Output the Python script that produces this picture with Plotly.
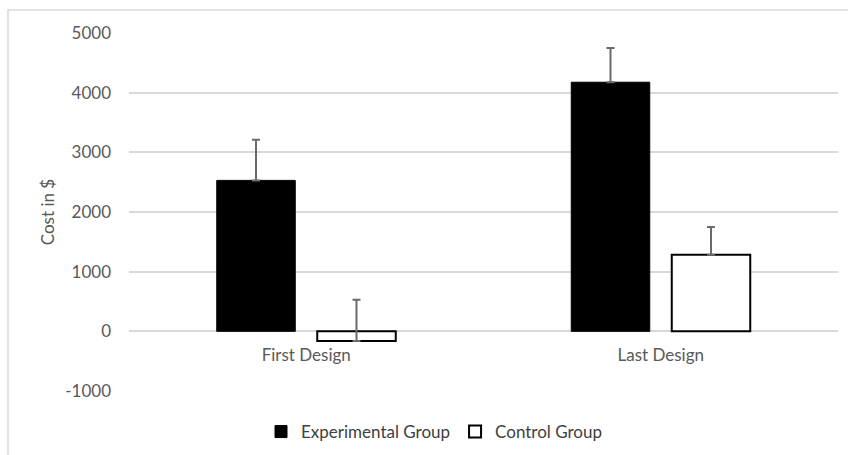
import plotly.graph_objects as go

categories = ["First Design", "Last Design"]
experimental = [2530, 4175]
experimental_err = [680, 575]
control = [-160, 1285]
control_err = [690, 465]
y_ticks = [-1000, 0, 1000, 2000, 3000, 4000, 5000]

W, H = 848, 455
L, R, T, B = 129, 10, 33, 64
pw, ph = W - L - R, H - T - B

def px_x(x):
    return (x - L) / pw

def px_y(y):
    return (H - B - y) / ph

font_fam = "Lato, 'Open Sans', sans-serif"
txt = "#595959"
fs = 17

fig = go.Figure()
fig.add_trace(go.Bar(
    name="Experimental Group", x=categories, y=experimental,
    marker=dict(color="black", line=dict(color="black", width=1)),
    error_y=dict(type="data", array=experimental_err, arrayminus=[0, 0], symmetric=False,
                 color="#6a6a6a", thickness=2, width=4),
))
fig.add_trace(go.Bar(
    name="Control Group", x=categories, y=control,
    marker=dict(color="white", line=dict(color="black", width=2)),
    error_y=dict(type="data", array=control_err, arrayminus=[0, 0], symmetric=False,
                 color="#6a6a6a", thickness=2, width=4),
))

fig.update_layout(
    width=W, height=H,
    margin=dict(l=L, r=R, t=T, b=B, autoexpand=False),
    paper_bgcolor="white", plot_bgcolor="white",
    barmode="group", bargap=0.433, bargroupgap=0.219,
    font=dict(family=font_fam, size=fs, color=txt),
    showlegend=True,
    legend=dict(orientation="h", xref="container", yref="container",
                x=434 / W, xanchor="center", y=(H - 432) / H, yanchor="middle",
                font=dict(size=fs, color="#404040"), bgcolor="rgba(0,0,0,0)",
                itemwidth=30, traceorder="normal"),
    xaxis=dict(showgrid=False, showline=False, ticks="", automargin=False,
               anchor="free", position=1000 / 6000, ticklabelstandoff=12,
               tickfont=dict(size=fs, color=txt)),
    yaxis=dict(range=[-1000, 5000], tickvals=y_ticks, ticktext=[str(v) for v in y_ticks],
               showgrid=True, gridcolor="#d9d9d9", gridwidth=1.5,
               zeroline=True, zerolinecolor="#d9d9d9", zerolinewidth=1.5,
               showline=False, ticks="", ticklabelstandoff=17, automargin=False,
               tickfont=dict(size=fs, color=txt),
               title=dict(text="Cost in $", font=dict(size=fs, color=txt), standoff=6)),
    shapes=[dict(type="rect", xref="paper", yref="paper",
                 x0=px_x(8), x1=px_x(870), y0=px_y(470), y1=px_y(10),
                 line=dict(color="#d9d9d9", width=1.5), fillcolor="rgba(0,0,0,0)", layer="below")],
)

fig.write_html("out.html", config={"displayModeBar": False},
               post_script="document.body.style.margin='0';document.body.style.overflow='hidden';")
